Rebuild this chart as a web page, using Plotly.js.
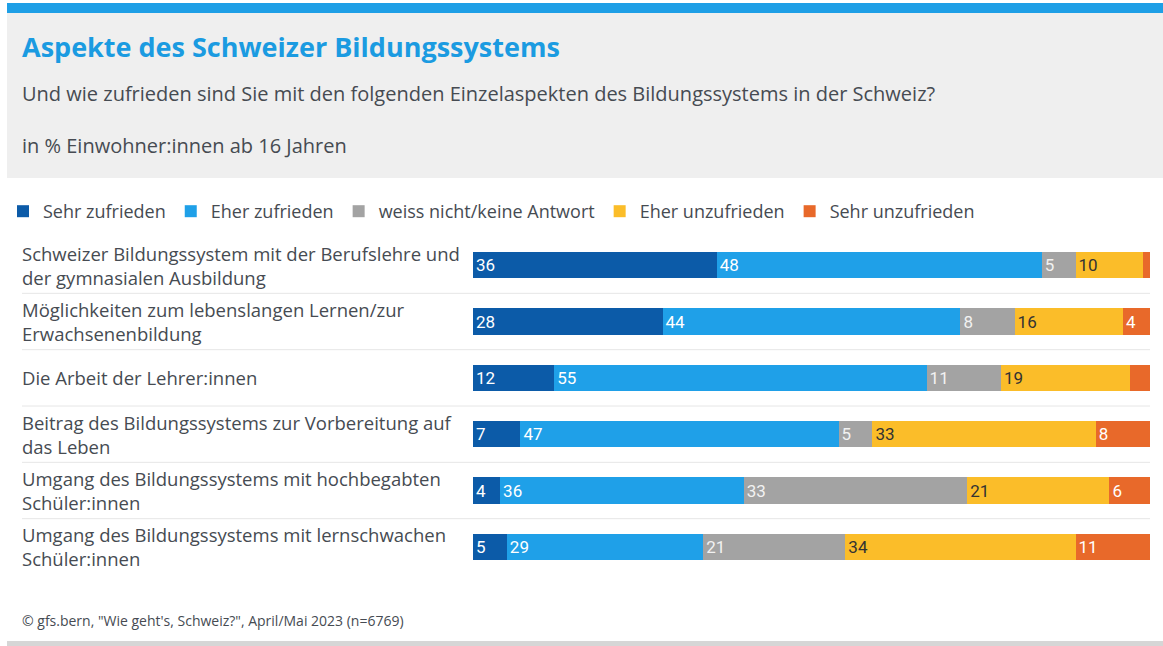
<!DOCTYPE html>
<html><head><meta charset="utf-8">
<script src="https://cdn.plot.ly/plotly-3.0.1.min.js"></script>
<style>html,body{margin:0;padding:0;background:#fff;}</style>
</head><body><div id="chart" style="width:1163px;height:646px;"></div>
<script>
const categories = [
  "Schweizer Bildungssystem mit der Berufslehre und<br>der gymnasialen Ausbildung",
  "Möglichkeiten zum lebenslangen Lernen/zur<br>Erwachsenenbildung",
  "Die Arbeit der Lehrer:innen",
  "Beitrag des Bildungssystems zur Vorbereitung auf<br>das Leben",
  "Umgang des Bildungssystems mit hochbegabten<br>Schüler:innen",
  "Umgang des Bildungssystems mit lernschwachen<br>Schüler:innen"
];
const seriesNames = ["Sehr zufrieden", "Eher zufrieden", "weiss nicht/keine Antwort", "Eher unzufrieden", "Sehr unzufrieden"];
const sehrZufrieden   = [36, 28, 12, 7, 4, 5];
const eherZufrieden   = [48, 44, 55, 47, 36, 29];
const weissNicht      = [5, 8, 11, 5, 33, 21];
const eherUnzufrieden = [10, 16, 19, 33, 21, 34];
const sehrUnzufrieden = [1, 4, 3, 8, 6, 11];

const titleText = "Aspekte des Schweizer Bildungssystems";
const subtitleText = "Und wie zufrieden sind Sie mit den folgenden Einzelaspekten des Bildungssystems in der Schweiz?";
const unitText = "in % Einwohner:innen ab 16 Jahren";
const sourceText = "© gfs.bern, \"Wie geht's, Schweiz?\", April/Mai 2023 (n=6769)";

const colors = ["#0c5ba8", "#1fa0e8", "#a3a3a3", "#fbbd29", "#e8692a"];
const textColors = ["#ffffff", "#ffffff", "#f2f2f2", "#333333", "#ffffff"];
const W = 1163, H = 646;
const px = x => x / W;
const py = y => 1 - y / H;
const FONT = "Open Sans, sans-serif";
const TXT = "#464b52";

const allSeries = [sehrZufrieden, eherZufrieden, weissNicht, eherUnzufrieden, sehrUnzufrieden];
const traces = allSeries.map((vals, i) => ({
  type: "bar",
  orientation: "h",
  name: seriesNames[i],
  y: categories,
  x: vals,
  text: vals.map(v => v >= 4 ? String(v) : ""),
  textposition: "inside",
  insidetextanchor: "start",
  constraintext: "none",
  textfont: {family: "Roboto, sans-serif", size: 17, color: textColors[i]},
  marker: {color: colors[i], line: {width: 0}},
  hoverinfo: "skip"
}));

const shapes = [
  {type: "rect", xref: "paper", yref: "paper", x0: px(7), x1: 1, y0: py(178), y1: py(13), fillcolor: "#efefef", line: {width: 0}, layer: "below"},
  {type: "rect", xref: "paper", yref: "paper", x0: px(7), x1: 1, y0: py(13), y1: py(3), fillcolor: "#1e9fe6", line: {width: 0}, layer: "below"},
  {type: "rect", xref: "paper", yref: "paper", x0: px(7), x1: 1, y0: py(646), y1: py(641), fillcolor: "#d6d6d6", line: {width: 0}, layer: "below"}
];
for (let i = 0; i < categories.length - 1; i++) {
  shapes.push({type: "line", xref: "paper", yref: "y", x0: px(22), x1: px(1150), y0: i + 0.5, y1: i + 0.5, line: {color: "#e6e6e6", width: 1}, layer: "below"});
}

const annotations = [
  {text: "<b>" + titleText + "</b>", xref: "paper", yref: "paper", x: px(20), y: py(47), xanchor: "left", yanchor: "middle", showarrow: false, font: {family: FONT, size: 27, color: "#1b9be1"}},
  {text: subtitleText, xref: "paper", yref: "paper", x: px(20), y: py(93), xanchor: "left", yanchor: "middle", showarrow: false, font: {family: FONT, size: 20, color: TXT}},
  {text: unitText, xref: "paper", yref: "paper", x: px(20), y: py(146), xanchor: "left", yanchor: "middle", showarrow: false, font: {family: FONT, size: 20, color: TXT}},
  {text: sourceText, xref: "paper", yref: "paper", x: px(20), y: py(620), xanchor: "left", yanchor: "middle", showarrow: false, font: {family: FONT, size: 14, color: TXT}}
];
categories.forEach(c => {
  annotations.push({text: c, xref: "paper", yref: "y", x: px(20), y: c, xanchor: "left", yanchor: "middle", align: "left", showarrow: false, font: {family: FONT, size: 18.5, color: TXT}});
});

const layout = {
  width: W, height: H,
  margin: {l: 0, r: 0, t: 0, b: 0},
  paper_bgcolor: "#ffffff",
  plot_bgcolor: "rgba(0,0,0,0)",
  barmode: "stack",
  bargap: 0.53,
  showlegend: true,
  legend: {orientation: "h", x: px(3), y: py(193), xanchor: "left", yanchor: "top", font: {family: FONT, size: 18, color: TXT}, itemwidth: 30, traceorder: "normal", bgcolor: "rgba(0,0,0,0)"},
  xaxis: {domain: [px(473), px(1150)], range: [0, 100], showgrid: false, zeroline: false, showticklabels: false, showline: false, fixedrange: true},
  yaxis: {domain: [py(575), py(237)], autorange: "reversed", showgrid: false, zeroline: false, showticklabels: false, showline: false, fixedrange: true, type: "category"},
  shapes: shapes,
  annotations: annotations
};

Plotly.newPlot("chart", traces, layout, {displayModeBar: false, staticPlot: true});
</script>
</body></html>
